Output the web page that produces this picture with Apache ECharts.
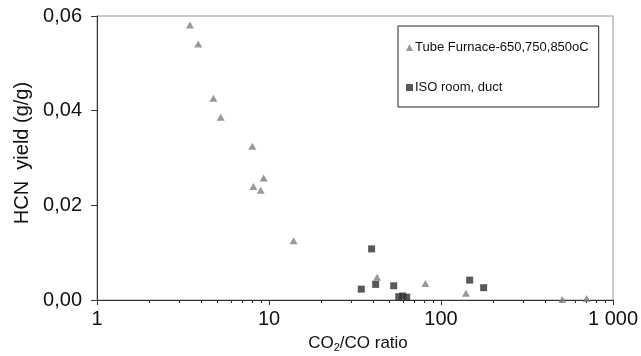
<!DOCTYPE html>
<html>
<head>
<meta charset="utf-8">
<script src="https://cdn.jsdelivr.net/npm/echarts@6/dist/echarts.min.js"></script>
<style>
  html, body { margin: 0; padding: 0; background: #fff; }
  #chart { width: 641px; height: 356px; }
</style>
</head>
<body>
<div id="chart"></div>
<script>
// tube furnace points (CO2/CO ratio, HCN yield)
const furnaceX = [3.47, 3.88, 4.75, 5.24, 8.0, 9.31, 8.11, 8.95, 13.9, 42.5, 81.1, 139.7, 507, 703];
const furnaceY = [0.0581, 0.0541, 0.0426, 0.0386, 0.0325, 0.0258, 0.0240, 0.0232, 0.0125, 0.0048, 0.0035, 0.0014, 0.0001, 0.0003];
// ISO room / duct points
const isoX = [39.5, 34.4, 41.7, 53.1, 56.8, 59.9, 63.2, 146.8, 177];
const isoY = [0.0108, 0.0023, 0.0033, 0.0030, 0.0007, 0.00085, 0.0006, 0.0042, 0.0026];

const xTickLabels = { 1: '1', 10: '10', 100: '100', 1000: '1 000' };
const minorSteps = [2, 3, 4, 5, 6, 7, 8, 9];

const zip = (xs, ys) => xs.map((x, i) => [x, ys[i]]);

const chart = echarts.init(document.getElementById('chart'), null, { renderer: 'canvas' });

const font = 'Liberation Sans, Arial, sans-serif';

const option = {
  backgroundColor: '#fff',
  animation: false,
  textStyle: { fontFamily: font },
  grid: {
    left: 97, right: 28, top: 16, bottom: 56,
    outerBoundsMode: 'none',
    containLabel: false,
    show: true,
    borderColor: '#9a9a9a',
    borderWidth: 1
  },
  legend: {
    orient: 'vertical',
    left: 398,
    top: 26,
    padding: [15, 10, 13, 8],
    itemGap: 27,
    itemWidth: 7,
    itemHeight: 7,
    borderColor: '#222',
    borderWidth: 1,
    textStyle: { fontFamily: font, fontSize: 13, color: '#111', padding: [0, 0, 0, -3] },
    data: ['Tube Furnace-650,750,850oC', 'ISO room, duct']
  },
  xAxis: {
    type: 'log',
    logBase: 10,
    min: 1,
    max: 1000,
    name: 'CO{sub|2}/CO ratio',
    nameLocation: 'middle',
    nameGap: 33,
    nameTextStyle: {
      fontFamily: font, fontSize: 17, color: '#111',
      padding: [0, 0, 0, 6],
      rich: { sub: { fontSize: 11, padding: [9, 0, 0, 0], fontFamily: font, color: '#111' } }
    },
    axisLine: { lineStyle: { color: '#333', width: 1 } },
    axisTick: { length: 5, lineStyle: { color: '#333' } },
    axisLabel: {
      fontFamily: font, fontSize: 20, color: '#111', margin: 9,
      formatter: v => xTickLabels[Math.round(v)] || ''
    },
    splitLine: { show: false }
  },
  yAxis: {
    type: 'value',
    min: 0,
    max: 0.06,
    interval: 0.02,
    name: 'HCN  yield (g/g)',
    nameLocation: 'middle',
    nameRotate: 90,
    nameGap: 64,
    nameTextStyle: { fontFamily: font, fontSize: 20, color: '#111', padding: [0, 0, 0, 10] },
    axisLine: { show: true, lineStyle: { color: '#333', width: 1 } },
    axisTick: { show: true, length: 6, lineStyle: { color: '#333' } },
    axisLabel: {
      fontFamily: font, fontSize: 20, color: '#111', margin: 15,
      formatter: v => v.toFixed(2).replace('.', ',')
    },
    splitLine: { show: false }
  },
  series: [
    {
      name: 'Tube Furnace-650,750,850oC',
      type: 'scatter',
      symbol: 'triangle',
      symbolSize: [8, 7],
      itemStyle: { color: '#808080' },
      data: zip(furnaceX, furnaceY)
    },
    {
      name: 'ISO room, duct',
      type: 'scatter',
      symbol: 'rect',
      symbolSize: 7,
      itemStyle: { color: '#303030' },
      data: zip(isoX, isoY)
    }
  ]
};

chart.setOption(option);

// minor ticks at 2..9 of each decade, placed through the axis scale
const minorLines = [];
[1, 10, 100].forEach(dec => {
  minorSteps.forEach(s => {
    const p = chart.convertToPixel({ xAxisIndex: 0, yAxisIndex: 0 }, [dec * s, 0]);
    const x = Math.round(p[0]) + 0.5;
    minorLines.push({
      type: 'line',
      silent: true,
      shape: { x1: x, y1: p[1], x2: x, y2: p[1] + 3 },
      style: { stroke: '#333', lineWidth: 1 }
    });
  });
});
chart.setOption({ graphic: minorLines });
</script>
</body>
</html>
